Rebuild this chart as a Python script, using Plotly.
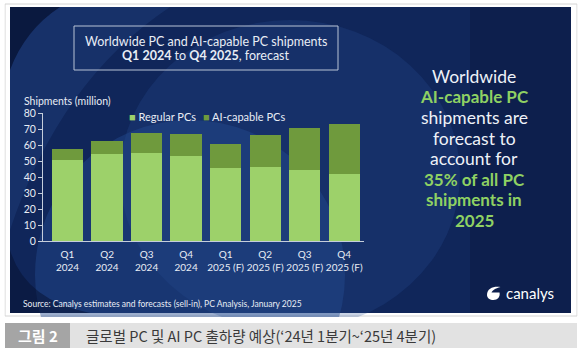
import plotly.graph_objects as go

W, H = 583, 359

categories = ["Q1<br>2024", "Q2<br>2024", "Q3<br>2024", "Q4<br>2024",
              "Q1<br>2025 (F)", "Q2<br>2025 (F)", "Q3<br>2025 (F)", "Q4<br>2025 (F)"]
regular_pcs = [50.6, 54.4, 54.8, 53.1, 45.4, 46.2, 44.6, 41.9]
ai_capable_pcs = [6.7, 8.3, 12.7, 13.6, 15.4, 20.3, 25.8, 31.4]
y_ticks = [0, 10, 20, 30, 40, 50, 60, 70, 80]

C_REG = "#9dd16a"
C_AI = "#6f9a3d"
TXT = "#e8edf5"
GREEN_TXT = "#8fd163"
FONT = "Lato"


def px(x):
    return x / W


def py(y):
    return 1 - y / H


fig = go.Figure()
fig.add_trace(go.Bar(x=categories, y=regular_pcs, name="Regular PCs",
                     marker=dict(color=C_REG, line=dict(width=0)), width=0.79))
fig.add_trace(go.Bar(x=categories, y=ai_capable_pcs, name="AI-capable PCs",
                     marker=dict(color=C_AI, line=dict(width=0)), width=0.79))

shapes = []
# outer frame
shapes.append(dict(type="rect", xref="paper", yref="paper", x0=px(5), x1=px(577), y0=py(316), y1=py(4),
                   line=dict(color="#d4d4d4", width=1), fillcolor="white", layer="below"))
# panel base
shapes.append(dict(type="rect", xref="paper", yref="paper", x0=px(10), x1=px(571), y0=py(313), y1=py(7),
                   line=dict(width=0), fillcolor="#10265a", layer="below"))
# central glow
shapes.append(dict(type="circle", xref="paper", yref="paper", x0=px(120), x1=px(460), y0=py(330), y1=py(20),
                   line=dict(width=0), fillcolor="rgba(40,80,150,0.25)", layer="below"))
# big swoosh circle
shapes.append(dict(type="circle", xref="paper", yref="paper", x0=px(35), x1=px(345), y0=py(430), y1=py(120),
                   line=dict(width=0), fillcolor="rgba(35,75,145,0.45)", layer="below"))
# darker right side
shapes.append(dict(type="rect", xref="paper", yref="paper", x0=px(470), x1=px(571), y0=py(313), y1=py(7),
                   line=dict(width=0), fillcolor="rgba(8,20,55,0.35)", layer="below"))
# top-left dark corner
shapes.append(dict(type="path", xref="paper", yref="paper",
                   path=f"M {px(10)},{py(7)} L {px(60)},{py(7)} Q {px(25)},{py(30)} {px(10)},{py(70)} Z",
                   line=dict(width=0), fillcolor="rgba(6,16,45,0.6)", layer="below"))
# lighter diagonal band top-left
shapes.append(dict(type="path", xref="paper", yref="paper",
                   path=f"M {px(60)},{py(7)} L {px(170)},{py(7)} Q {px(60)},{py(80)} {px(10)},{py(230)} L {px(10)},{py(70)} Q {px(25)},{py(30)} {px(60)},{py(7)} Z",
                   line=dict(width=0), fillcolor="rgba(45,85,150,0.25)", layer="below"))
# bottom-left darker
shapes.append(dict(type="path", xref="paper", yref="paper",
                   path=f"M {px(10)},{py(313)} L {px(10)},{py(250)} Q {px(25)},{py(300)} {px(90)},{py(313)} Z",
                   line=dict(width=0), fillcolor="rgba(6,16,45,0.5)", layer="below"))
# cover below panel
shapes.append(dict(type="rect", xref="paper", yref="paper", x0=0, x1=1, y0=0, y1=py(317),
                   line=dict(width=0), fillcolor="white", layer="below"))
shapes.append(dict(type="rect", xref="paper", yref="paper", x0=0, x1=px(4.5), y0=0, y1=1,
                   line=dict(width=0), fillcolor="white", layer="below"))
shapes.append(dict(type="rect", xref="paper", yref="paper", x0=px(577.5), x1=1, y0=0, y1=1,
                   line=dict(width=0), fillcolor="white", layer="below"))
# title box
shapes.append(dict(type="rect", xref="paper", yref="paper", x0=px(74), x1=px(338), y0=py(70), y1=py(26),
                   line=dict(color="#b8c3d6", width=1), fillcolor="rgba(0,0,0,0)", layer="above"))
# caption bar
shapes.append(dict(type="rect", xref="paper", yref="paper", x0=px(5), x1=px(577), y0=py(348), y1=py(323),
                   line=dict(width=0), fillcolor="#e2e2e2", layer="above"))
shapes.append(dict(type="rect", xref="paper", yref="paper", x0=px(5), x1=px(70), y0=py(348), y1=py(323),
                   line=dict(width=0), fillcolor="#a5a5a5", layer="above"))
# canalys icon
shapes.append(dict(type="path", xref="paper", yref="paper",
                   path=(f"M {px(487)},{py(295)} C {px(487)},{py(288)} {px(494)},{py(286)} {px(500.5)},{py(287)} "
                         f"C {px(495)},{py(288.5)} {px(492.5)},{py(290.5)} {px(491.5)},{py(292.5)} "
                         f"L {px(499.5)},{py(292.5)} C {px(500.5)},{py(297)} {px(497.5)},{py(300)} {px(493.5)},{py(300)} "
                         f"C {px(490)},{py(300)} {px(487)},{py(298)} {px(487)},{py(295)} Z"),
                   line=dict(width=0), fillcolor="white", layer="above"))

annotations = []


def note(text, x, y, size, color=TXT, xanchor="center", family=FONT):
    annotations.append(dict(text=text, x=px(x), y=py(y), xref="paper", yref="paper",
                            xanchor=xanchor, yanchor="middle", showarrow=False,
                            font=dict(family=family, size=size, color=color)))


note("Worldwide PC and AI-capable PC shipments", 206, 41, 12.5)
note("<b>Q1 2024</b> to <b>Q4 2025</b>, forecast", 206, 55, 12.5)
note("Shipments (million)", 22, 101, 10.5, xanchor="left")
note(f"<span style='color:{C_REG}'>■</span> Regular PCs", 127, 117, 11, xanchor="left")
note(f"<span style='color:{C_AI}'>■</span> AI-capable PCs", 201, 117, 11, xanchor="left")
note("Source: Canalys estimates and forecasts (sell-in), PC Analysis, January 2025", 21, 304, 8.5, xanchor="left")

right_lines = [
    ("Worldwide", False, 76.5),
    ("AI-capable PC", True, 97),
    ("shipments are", False, 117.5),
    ("forecast to", False, 138),
    ("account for", False, 158.5),
    ("35% of all PC", True, 179),
    ("shipments in", True, 199.5),
    ("2025", True, 220),
]
for txt, green, yy in right_lines:
    if green:
        note(f"<b>{txt}</b>", 474, yy, 17, color=GREEN_TXT)
    else:
        note(txt, 474, yy, 17.5, color="#eef2f8")

note("canalys", 530, 293, 15, color="white")
note("<b>그림 2</b>", 37.5, 335.5, 15, color="white", family="Noto Sans CJK KR")
note("글로벌 PC 및 AI PC 출하량 예상(‘24년 1분기~‘25년 4분기)", 84, 335.5, 14.5, color="#3a3a3a",
     xanchor="left", family="Noto Sans CJK KR")

fig.update_layout(
    width=W, height=H,
    margin=dict(l=0, r=0, t=0, b=0, autoexpand=False),
    paper_bgcolor="white",
    plot_bgcolor="rgba(0,0,0,0)",
    barmode="stack",
    showlegend=False,
    shapes=shapes,
    annotations=annotations,
    font=dict(family=FONT, color=TXT),
    xaxis=dict(domain=[px(43), px(364)], range=[-0.62, 7.5], showgrid=False, zeroline=False,
               showline=True, linecolor="#c5cedb", linewidth=1, ticks="", tickangle=0,
               automargin=False, ticklabelstandoff=4,
               tickfont=dict(family=FONT, size=10, color=TXT), fixedrange=True),
    yaxis=dict(domain=[py(241), py(113)], range=[0, 80], tickvals=y_ticks, showgrid=False,
               zeroline=False, showline=True, linecolor="#c5cedb", linewidth=1,
               ticks="outside", ticklen=4, tickcolor="#c5cedb", automargin=False,
               tickfont=dict(family=FONT, size=10.5, color=TXT), fixedrange=True),
)

fig.write_html("out.html", config={"displayModeBar": False},
               post_script="document.body.style.margin='0';document.body.style.overflow='hidden';")
